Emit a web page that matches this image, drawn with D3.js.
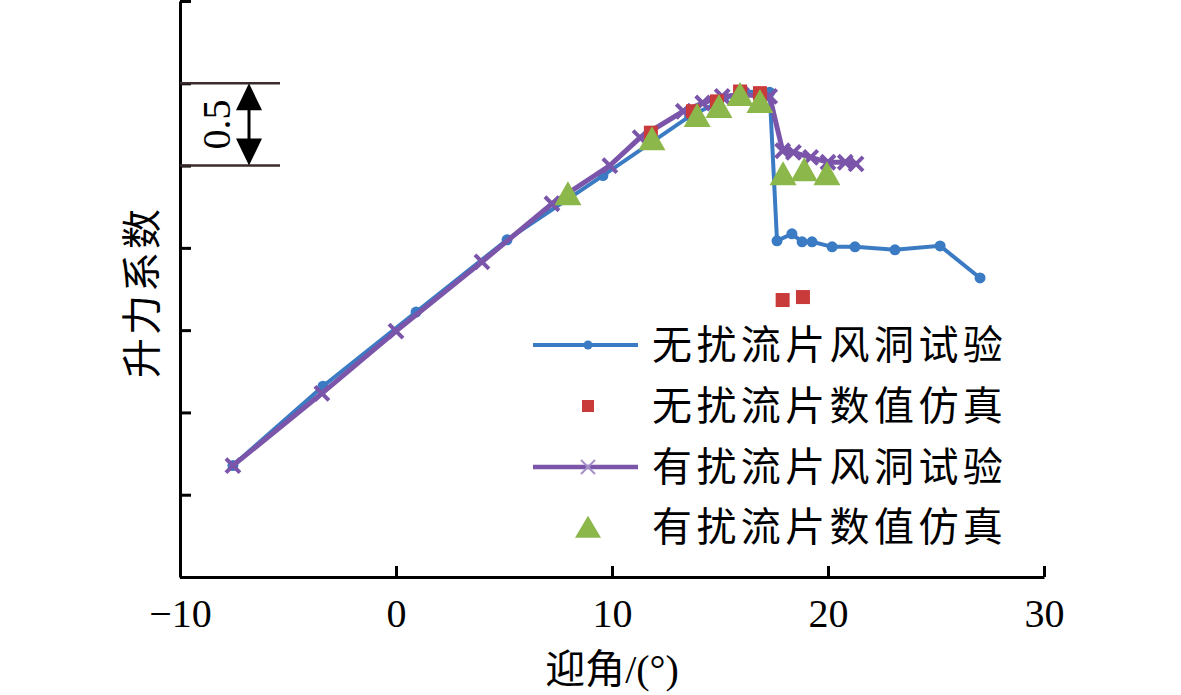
<!DOCTYPE html>
<html><head><meta charset="utf-8">
<script src="https://cdn.jsdelivr.net/npm/d3@7"></script>
<style>html,body{margin:0;padding:0;background:#fff;}svg{display:block;}</style>
</head><body>
<svg id="c" width="1181" height="695"></svg>
<script>
// ---- data ----
const xTicks = [-10, 0, 10, 20, 30];
const yTicks = [-1.5, -1.0, -0.5, 0, 0.5, 1.0, 1.5, 2.0];
const seriesNames = ["无扰流片风洞试验", "无扰流片数值仿真", "有扰流片风洞试验", "有扰流片数值仿真"];

const blueX = [-7.55, -3.38, 0.93, 5.14, 9.58, 13.6, 15.97, 17.3, 17.64, 18.33, 18.8, 19.26, 20.19, 21.25, 23.1, 25.19, 27.04];
const blueY = [-0.823, -0.341, 0.11, 0.549, 0.939, 1.30, 1.45, 1.445, 0.543, 0.585, 0.537, 0.537, 0.506, 0.506, 0.488, 0.512, 0.317];

const redX = [11.8, 13.75, 14.86, 15.93, 16.85, 17.9, 18.84];
const redY = [1.20, 1.33, 1.39, 1.45, 1.44, 0.183, 0.201];

const purpleX = [-7.55, -3.43, 0.0, 3.98, 7.22, 9.9, 11.3, 13.3, 14.2, 15.1, 16.0, 17.3, 17.9, 18.4, 19.2, 20.0, 20.8, 21.3];
const purpleY = [-0.823, -0.384, -0.006, 0.415, 0.768, 1.0, 1.17, 1.33, 1.38, 1.42, 1.43, 1.42, 1.09, 1.08, 1.05, 1.02, 1.02, 1.01];

const greenX = [7.96, 11.85, 13.94, 14.95, 15.93, 16.85, 17.92, 18.9, 19.95];
const greenY = [0.817, 1.152, 1.293, 1.348, 1.42, 1.378, 0.939, 0.963, 0.939];

// ---- setup ----
const svg = d3.select("#c");
const x = d3.scaleLinear().domain([-10, 30]).range([180, 1044]);
const y = d3.scaleLinear().domain([-1.5, 2.0]).range([577, 1]);

const C = {blue:"#3b7bc3", red:"#c93a3a", purple:"#7a55a9", green:"#8cb84b"};
const cjk = "'Noto Sans CJK SC', 'Noto Sans CJK JP', sans-serif";
const serif = "'Liberation Serif', 'DejaVu Serif', serif";

// axes
const gx = svg.append("g").attr("transform", `translate(0,${y(-1.5)})`)
  .call(d3.axisBottom(x).tickValues(xTicks).tickSizeInner(-11).tickSizeOuter(0).tickPadding(22)
    .tickFormat(d => d < 0 ? "\u2212" + Math.abs(d) : d));
gx.select(".domain").attr("stroke", "#000").attr("stroke-width", 3);
gx.selectAll(".tick line").attr("stroke", "#000").attr("stroke-width", 3);
gx.selectAll(".tick text").attr("font-family", serif).attr("font-size", 40).attr("fill", "#000").attr("dy", "0.71em");

const gy = svg.append("g").attr("transform", `translate(${x(-10)},0)`)
  .call(d3.axisLeft(y).tickValues(yTicks).tickSizeInner(-11).tickSizeOuter(0).tickFormat(""));
gy.select(".domain").attr("stroke", "#000").attr("stroke-width", 3);
gy.selectAll(".tick line").attr("stroke", "#000").attr("stroke-width", 3);

// axis titles
svg.append("text").attr("x", 612).attr("y", 683).attr("text-anchor", "middle")
  .attr("font-size", 40).attr("fill", "#000")
  .call(t => {
    t.append("tspan").attr("font-family", cjk).text("迎角");
    t.append("tspan").attr("font-family", serif).text("/(°)");
  });
svg.append("text").attr("transform", "translate(156,292) rotate(-90)").attr("text-anchor", "middle")
  .attr("font-family", cjk).attr("font-size", 40).attr("letter-spacing", 3).attr("fill", "#000").text("升力系数");

// 0.5 annotation
const annY1 = y(1.5), annY2 = y(1.0);
svg.append("line").attr("x1", x(-10)).attr("x2", 280).attr("y1", annY1).attr("y2", annY1).attr("stroke", "#3a2c2c").attr("stroke-width", 2.5);
svg.append("line").attr("x1", x(-10)).attr("x2", 280).attr("y1", annY2).attr("y2", annY2).attr("stroke", "#3a2c2c").attr("stroke-width", 2.5);
const ax = 249;
svg.append("line").attr("x1", ax).attr("x2", ax).attr("y1", annY1 + 20).attr("y2", annY2 - 20).attr("stroke", "#000").attr("stroke-width", 3);
svg.append("path").attr("d", `M${ax},${annY1} L${ax-13},${annY1+27} L${ax+13},${annY1+27} Z`).attr("fill", "#000");
svg.append("path").attr("d", `M${ax},${annY2} L${ax-13},${annY2-27} L${ax+13},${annY2-27} Z`).attr("fill", "#000");
svg.append("text").attr("transform", `translate(230,${(annY1+annY2)/2}) rotate(-90)`).attr("text-anchor", "middle")
  .attr("font-family", serif).attr("font-size", 40).attr("fill", "#000").text("0.5");

// series
const line = d3.line().x(d => x(d[0])).y(d => y(d[1]));
const blue = blueX.map((v, i) => [v, blueY[i]]);
const red = redX.map((v, i) => [v, redY[i]]);
const purple = purpleX.map((v, i) => [v, purpleY[i]]);
const green = greenX.map((v, i) => [v, greenY[i]]);

svg.append("path").datum(blue).attr("d", line).attr("fill", "none").attr("stroke", C.blue).attr("stroke-width", 4);
svg.selectAll(".bdot").data(blue).join("circle").attr("cx", d => x(d[0])).attr("cy", d => y(d[1])).attr("r", 5.5).attr("fill", C.blue);

const xMark = (cx, cy, s) => `M${cx-s},${cy-s}L${cx+s},${cy+s}M${cx-s},${cy+s}L${cx+s},${cy-s}`;
svg.append("path").datum(purple).attr("d", line).attr("fill", "none").attr("stroke", C.purple).attr("stroke-width", 5);
svg.selectAll(".pmark").data(purple).join("path").attr("d", d => xMark(x(d[0]), y(d[1]), 7))
  .attr("stroke", C.purple).attr("stroke-width", 4).attr("fill", "none");

svg.selectAll(".rsq").data(red).join("rect").attr("x", d => x(d[0]) - 7).attr("y", d => y(d[1]) - 7)
  .attr("width", 14).attr("height", 14).attr("fill", C.red);

const tri = (cx, cy, w, h) => `M${cx},${cy-h*0.6}L${cx+w/2},${cy+h*0.4}L${cx-w/2},${cy+h*0.4}Z`;
svg.selectAll(".gtri").data(green).join("path").attr("d", d => tri(x(d[0]), y(d[1]), 27, 24)).attr("fill", C.green);

// legend
const lgX1 = 533, lgX2 = 638, lgM = 588, lgT = 652;
const rows = [345, 406, 467, 527];
const lg = svg.append("g");
lg.append("line").attr("x1", lgX1).attr("x2", lgX2).attr("y1", rows[0]).attr("y2", rows[0]).attr("stroke", C.blue).attr("stroke-width", 4);
lg.append("circle").attr("cx", lgM).attr("cy", rows[0]).attr("r", 4.5).attr("fill", C.blue);
lg.append("rect").attr("x", lgM - 6).attr("y", rows[1] - 6).attr("width", 12).attr("height", 12).attr("fill", C.red);
lg.append("line").attr("x1", lgX1).attr("x2", lgX2).attr("y1", rows[2]).attr("y2", rows[2]).attr("stroke", C.purple).attr("stroke-width", 4.5);
lg.append("path").attr("d", xMark(lgM, rows[2], 7)).attr("stroke", "#a690c8").attr("stroke-width", 2).attr("fill", "none");
lg.append("path").attr("d", tri(lgM, rows[3] + 2, 26, 22)).attr("fill", C.green);
lg.selectAll(".lt").data(seriesNames).join("text").attr("x", lgT).attr("y", (d, i) => rows[i]).attr("dy", "0.36em")
  .attr("font-family", cjk).attr("font-size", 40).attr("letter-spacing", 4.4).attr("fill", "#000").text(d => d);
</script>
</body></html>
